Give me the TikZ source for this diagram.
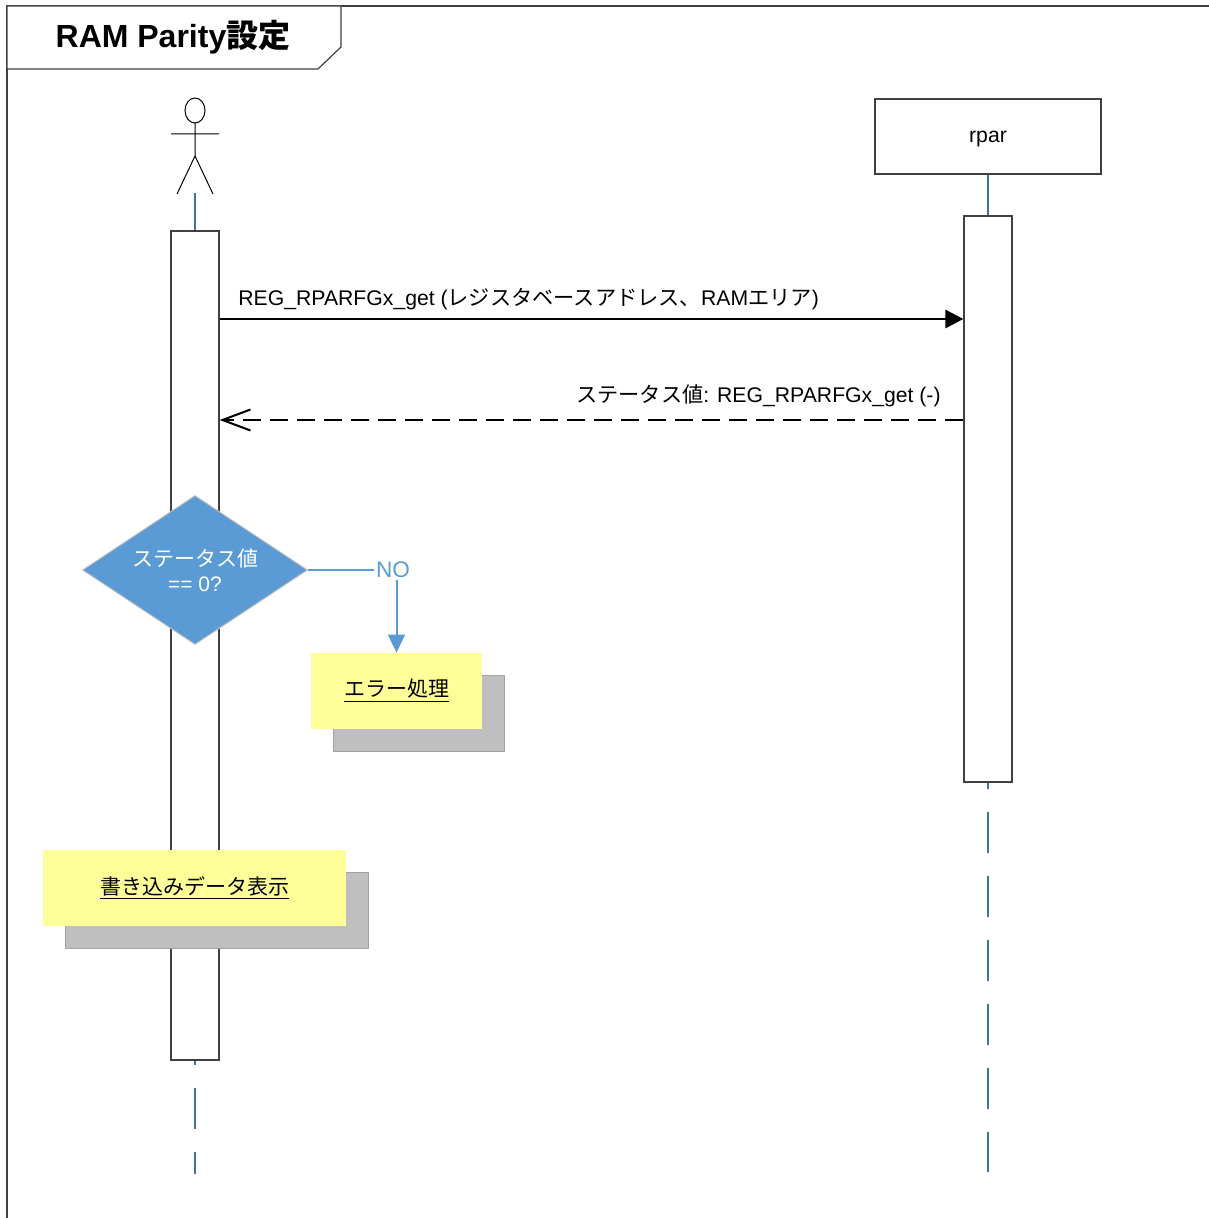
\documentclass[tikz,border=0pt]{standalone}
\usepackage{fontspec}
\setmainfont{Liberation Sans}
\newfontfamily\jp{Noto Sans CJK JP}
\newcommand\jtxt[1]{{\jp #1}}
\usetikzlibrary{arrows.meta,shapes.geometric,shadows}
\definecolor{lifeblue}{HTML}{41719C}
\definecolor{diablue}{HTML}{5B9BD5}
\definecolor{noteyellow}{HTML}{FFFF99}
\definecolor{notegray}{HTML}{BFBFBF}
\definecolor{framegray}{HTML}{404040}

\begin{document}
\begin{tikzpicture}[x=0.5pt, y=-0.5pt,
    frame/.style={draw=framegray, line width=0.6pt},
    actbar/.style={rectangle, draw=framegray, fill=white, line width=0.6pt, minimum width=24pt, inner sep=0pt},
    lifeline/.style={draw=lifeblue, line width=1.2pt},
    lifedash/.style={lifeline, dash pattern=on 20.5pt off 11.5pt},
    msg/.style={-{Triangle[length=9pt, width=9pt]}, line width=1.3pt},
    reply/.style={-{Straight Barb[length=14pt, width=10.5pt, line width=1pt]}, line width=1.3pt, dash pattern=on 9pt off 4.5pt},
    lbl/.style={inner sep=0pt, font=\fontsize{10.6}{13}\selectfont},
    decision/.style={diamond, aspect=1.5, fill=diablue, draw=notegray, line width=0.5pt, text=white, align=center, inner sep=0pt, minimum width=112.5pt, minimum height=74.5pt, font=\fontsize{10.5}{12.5}\selectfont},
    note/.style={rectangle, fill=noteyellow, minimum height=38pt, inner sep=0pt, font=\fontsize{10.5}{12}\selectfont, general shadow={fill=notegray, draw=notegray!85!black, shadow xshift=11pt, shadow yshift=-11pt}},
    noline/.style={draw=diablue, line width=1pt}
]
\useasboundingbox (0,0) rectangle (1208,1218);

% frame and title
\draw[frame] (7,1230) -- (7,6) -- (1220,6);
\draw[frame, fill=white] (7,6) -- (341,6) -- (341,47) -- (318,69) -- (7,69) -- cycle;
\node[lbl, font=\fontsize{16}{19}\selectfont\bfseries, anchor=base] (title) at (173,48) {RAM Parity\jtxt{設定}};

% user
\draw[line width=0.5pt] (195,110.5) ellipse [x radius=5pt, y radius=6.25pt];
\draw[line width=0.5pt] (195,123) -- (195,156) (171,134) -- (219,134) (177,194) -- (195,156) -- (213,194);
\coordinate (user) at (195,193);
\node[actbar, minimum height=414.5pt] (barU) at (195,645.5) {};

% rpar
\node[lbl, draw=framegray, line width=0.6pt, text depth=0pt, minimum width=113pt, minimum height=37.5pt] (rpar) at (988,136.5) {rpar};
\node[actbar, minimum height=283pt] (barR) at (988,499) {};

% lifelines
\coordinate (endU) at (195,1174);
\coordinate (endR) at (988,1172);
\draw[lifeline] (user) -- (barU.north);
\draw[lifeline] (rpar.south) -- (barR.north);
\draw[lifedash, dash phase=18.5pt] (barU.south) -- (endU);
\draw[lifedash, dash phase=17.5pt] (barR.south) -- (endR);

% messages
\coordinate (m1) at (600,319);
\coordinate (m2) at (600,420);
\draw[msg] (barU.east |- m1) -- (barR.west |- m1);
\node[lbl, anchor=base west] (m1lbl) at (238,306) {REG\_RPARFGx\_get (\jtxt{レジスタベースアドレス、}RAM\jtxt{エリア})};
\draw[reply] (barR.west |- m2) -- (barU.east |- m2);
\node[lbl, anchor=base east] (m2lbl) at (941,403) {\jtxt{ステータス値}: REG\_RPARFGx\_get (-)};

% check
\node[decision] (check) at (195,570) {\jtxt{ステータス値}\\== 0?};
\node[lbl, font=\fontsize{11.3}{13}\selectfont, text=diablue, inner sep=1pt] (no) at (393,570) {NO};
\draw[noline] (check.east) -- (no.west);
\node[note, minimum width=85.5pt] (err) at (396.5,691) {\underline{\jtxt{エラー処理}}};
\draw[noline, -{Triangle[length=9pt, width=8.5pt]}] (no.south -| err.north) -- (err.north);

% output
\node[note, minimum width=151.5pt] (show) at (194.5,888) {\underline{\jtxt{書き込みデータ表示}}};

\end{tikzpicture}
\end{document}
